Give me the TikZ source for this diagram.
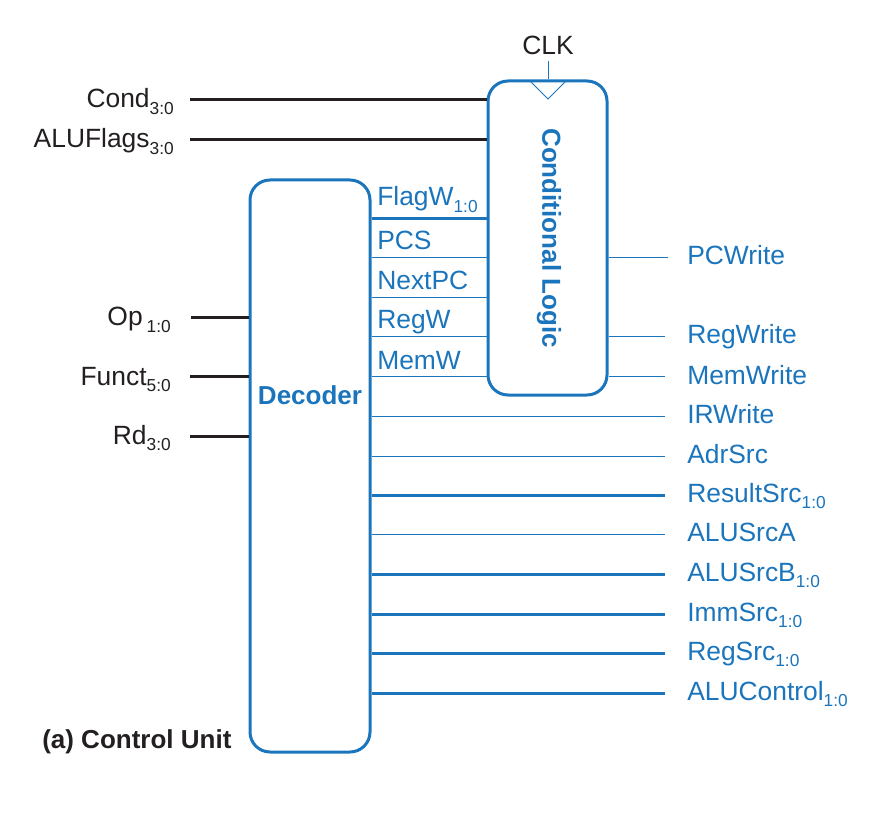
\documentclass[tikz,border=0pt]{standalone}
\usepackage{fontspec}
\setmainfont{Liberation Sans}
\definecolor{cblue}{RGB}{27,117,188}
\definecolor{cblack}{RGB}{35,31,32}
\newcommand{\bsub}[1]{\raisebox{-5pt}{\fontsize{13}{13}\selectfont #1}}
\begin{document}
\begin{tikzpicture}[x=0.75pt,y=-0.75pt,
  font=\fontsize{19.8}{22}\selectfont,
  box/.style={draw=cblue, line width=2.25pt, rounded corners=15pt, inner sep=0pt},
  bus/.style={draw=cblue, line width=2.25pt},
  wire/.style={draw=cblue, line width=0.75pt},
  inw/.style={draw=cblack, line width=2.25pt},
  olbl/.style={text=cblue, inner sep=0pt, anchor=base west},
  ilbl/.style={text=cblack, inner sep=0pt, anchor=base east},
  bold/.style={font=\fontsize{19.5}{22}\selectfont\bfseries}]
\useasboundingbox (0,0) rectangle (892,816);

% boxes
\node[box, minimum width=90pt, minimum height=429pt] (dec) at (310,466) {};
\node[bold, text=cblue] (dectxt) at (310,395) {Decoder};
\node[box, minimum width=89.25pt, minimum height=235.5pt] (cl) at (547.5,238) {};
\node[bold, text=cblue, rotate=-90] (cltxt) at (549,238) {Conditional Logic};

% clock
\draw[wire] (530,81) -- (548,99) -- (566,81);
\node[text=cblack, anchor=base, inner sep=0pt] (clk) at (548,55) {CLK};
\coordinate (clkin) at (548,61);
\draw[wire] (clkin) -- (clkin |- cl.north);

% inputs to conditional logic
\node[ilbl] (cond) at (174,108) {Cond\bsub{3:0}};
\coordinate (conds) at (190,100);
\draw[inw] (conds) -- (conds -| cl.west);
\node[ilbl] (flags) at (174,148) {ALUFlags\bsub{3:0}};
\coordinate (flagss) at (190,140);
\draw[inw] (flagss) -- (flagss -| cl.west);

% inputs to decoder
\node[ilbl] (op) at (171,326) {Op\hspace{0.15em}\bsub{1:0}};
\coordinate (ops) at (191,318);
\draw[inw] (ops) -- (ops -| dec.west);
\node[ilbl] (funct) at (171,385) {Funct\bsub{5:0}};
\coordinate (functs) at (190,377);
\draw[inw] (functs) -- (functs -| dec.west);
\node[ilbl] (rd) at (171,444) {Rd\bsub{3:0}};
\coordinate (rds) at (190,436);
\draw[inw] (rds) -- (rds -| dec.west);

% decoder to conditional logic
\coordinate (fw) at (dec.east |- 0,219);
\draw[bus] (fw) -- (fw -| cl.west);
\node[olbl] (fwl) at (377,206) {FlagW\bsub{1:0}};
\foreach \y/\t/\n in {258/PCS/pcs, 298/NextPC/npc, 337/RegW/regw, 377/MemW/memw}{
  \coordinate (c\n) at (dec.east |- 0,\y);
  \draw[wire] (c\n) -- (c\n -| cl.west);
  \node[olbl] (l\n) at (377,\y-8) {\t};
}

% conditional logic outputs
\foreach \y/\t/\e/\n in {258/PCWrite/668/pcw, 337/RegWrite/665/rgw, 377/MemWrite/665/mmw}{
  \coordinate (e\n) at (\e,\y);
  \draw[wire] (cl.east |- e\n) -- (e\n);
  \node[olbl] (l\n) at (687,\y+7) {\t};
}

% decoder direct outputs
\foreach \y/\t/\s/\n in {416/IRWrite/wire/irw, 456/AdrSrc/wire/adr,
  495/ResultSrc\bsub{1:0}/bus/res, 534/ALUSrcA/wire/asa,
  574/ALUSrcB\bsub{1:0}/bus/asb, 614/ImmSrc\bsub{1:0}/bus/imm,
  653/RegSrc\bsub{1:0}/bus/rgs, 693/ALUControl\bsub{1:0}/bus/alc}{
  \coordinate (e\n) at (665,\y);
  \draw[\s] (dec.east |- e\n) -- (e\n);
  \node[olbl] (l\n) at (687,\y+7) {\t};
}

\node[bold, text=cblack, anchor=base west, inner sep=0pt] (cap) at (42,748) {(a) Control Unit};
\end{tikzpicture}
\end{document}
